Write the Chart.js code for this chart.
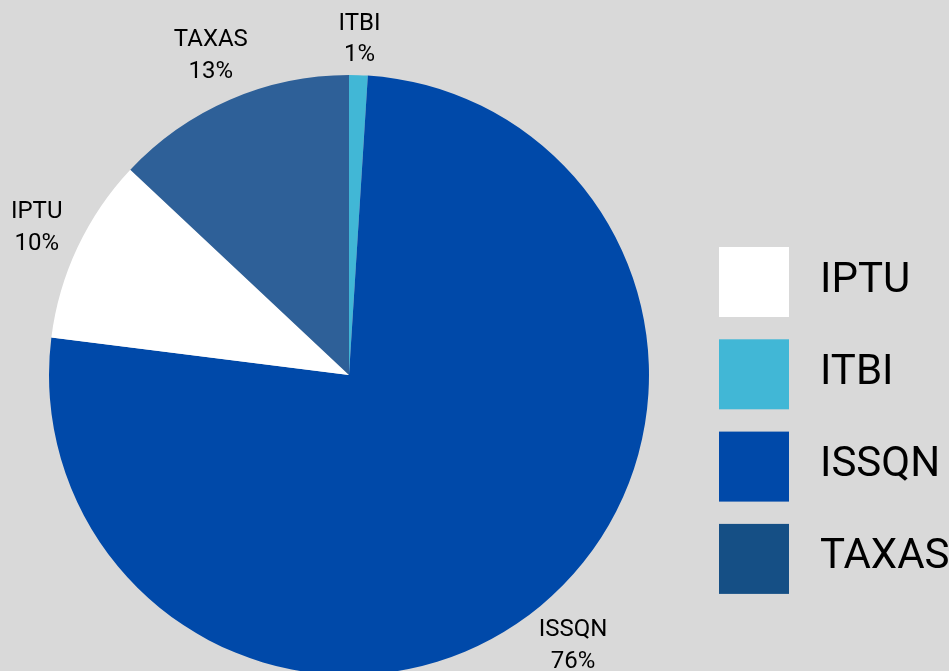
<!DOCTYPE html>
<html>
<head>
<meta charset="utf-8">
<script src="https://cdn.jsdelivr.net/npm/chart.js@4/dist/chart.umd.min.js"></script>
<style>
  html, body { margin: 0; padding: 0; background: #d9d9d9; }
  canvas { display: block; }
</style>
</head>
<body>
<canvas id="receitaChart" width="949" height="671"></canvas>
<script>
// slices, clockwise from 12 o'clock
const categories = ['ITBI', 'ISSQN', 'IPTU', 'TAXAS'];
const values = [1, 76, 10, 13];
const sliceColors = ['#41b7d6', '#0049a9', '#ffffff', '#2e6098'];

// legend order and swatches
const legendOrder = ['IPTU', 'ITBI', 'ISSQN', 'TAXAS'];
const legendColors = ['#ffffff', '#41b7d6', '#0049a9', '#154f85'];

const FONT = 'Roboto, Inter, sans-serif';

// two-line "NAME / xx%" labels outside each slice
const outsideLabels = {
  id: 'outsideLabels',
  afterDatasetsDraw(chart) {
    const ctx = chart.ctx;
    const meta = chart.getDatasetMeta(0);
    const data = chart.data.datasets[0].data;
    const total = data.reduce((a, b) => a + b, 0);
    ctx.save();
    ctx.font = '24px ' + FONT;
    ctx.fillStyle = '#000';
    ctx.textAlign = 'center';
    ctx.textBaseline = 'middle';
    meta.data.forEach((arc, i) => {
      const p = arc.getProps(['x', 'y', 'startAngle', 'endAngle', 'outerRadius'], true);
      const mid = (p.startAngle + p.endAngle) / 2;
      const dx = Math.cos(mid), dy = Math.sin(mid);
      const line1 = chart.data.labels[i];
      const line2 = Math.round(data[i] / total * 100) + '%';
      const halfW = Math.max(ctx.measureText(line1).width, ctx.measureText(line2).width) / 2;
      const halfH = 23;
      const dist = p.outerRadius + 12 + Math.abs(dx) * halfW + Math.abs(dy) * halfH;
      const cx = p.x + dx * dist;
      const cy = p.y + dy * dist;
      ctx.fillText(line1, cx, cy - 15.75);
      ctx.fillText(line2, cx, cy + 15.75);
    });
    ctx.restore();
  }
};

// square swatches on the right
const sideLegend = {
  id: 'sideLegend',
  afterDraw(chart) {
    const ctx = chart.ctx;
    ctx.save();
    ctx.font = '42px ' + FONT;
    ctx.textBaseline = 'middle';
    ctx.textAlign = 'left';
    legendOrder.forEach((name, i) => {
      const top = 247 + i * 92.3;
      ctx.fillStyle = legendColors[i];
      ctx.fillRect(719, top, 70, 70);
      ctx.fillStyle = '#000';
      ctx.fillText(name, 820, top + 34);
    });
    ctx.restore();
  }
};

new Chart(document.getElementById('receitaChart'), {
  type: 'pie',
  data: {
    labels: categories,
    datasets: [{
      data: values,
      backgroundColor: sliceColors,
      borderWidth: 0,
      clip: false,
    }],
  },
  options: {
    responsive: false,
    animation: false,
    radius: 300,
    layout: {
      padding: { left: 0, right: 251, top: 79, bottom: 0 },
    },
    plugins: {
      legend: { display: false },
      tooltip: { enabled: false },
    },
  },
  plugins: [outsideLabels, sideLegend],
});
</script>
</body>
</html>
